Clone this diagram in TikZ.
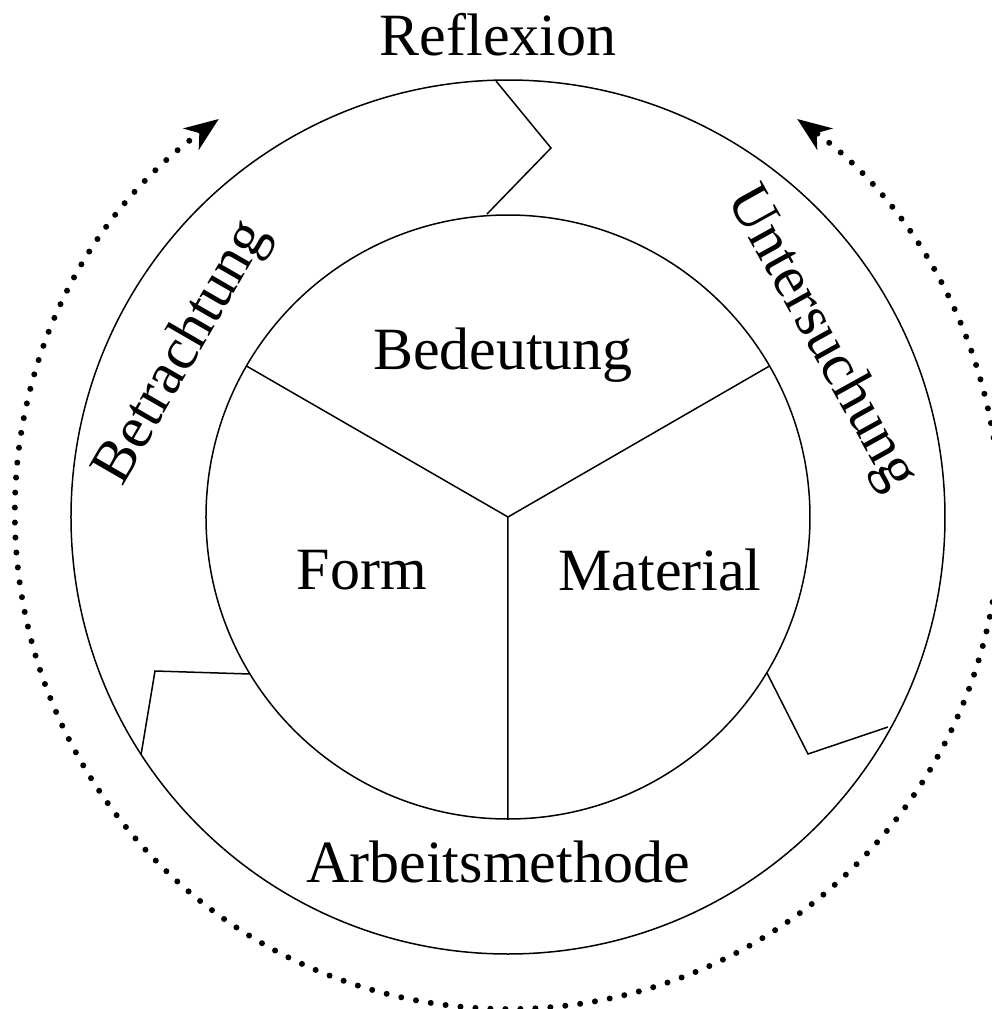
\documentclass[tikz,border=0pt]{standalone}
\usepackage{fontspec}
\setmainfont{Liberation Serif}
\usetikzlibrary{arrows.meta}
\tikzset{lbl/.style={font=\fontsize{30}{36}\selectfont, inner sep=0pt}}

\begin{document}
\begin{tikzpicture}[x=0.5pt, y=0.5pt, line width=0.75pt]
      \useasboundingbox (-508,-492) rectangle (484,517);
      % Circles
      \coordinate (c) at (0,0);
      \draw (c) circle[radius=302];
      \draw (c) circle[radius=437];
      % Spokes of the inner circle
      \draw (c) -- (30:302) (c) -- (150:302) (c) -- (270:302);
      % Zigzags between the rings
      \draw (-12,436) -- (43,369) -- (-21,303);
      \draw (-367,-238) -- (-353,-154) -- (-258,-157);
      \draw (259,-156) -- (300,-237) -- (380,-210);
      % Dotted loop with arrows
      \draw[line width=3pt, dash pattern=on 0pt off 7.5pt, line cap=round,
        {Stealth[length=17pt, width=13pt, inset=5pt]}-{Stealth[length=17pt, width=13pt, inset=5pt]}]
        (126:492) arc[start angle=126, end angle=414, radius=492];
      % Labels
      \node[lbl] (reflexion) at (-10,482) {Reflexion};
      \node[lbl] (bedeutung) at (-5,162) {Bedeutung};
      \node[lbl] (form) at (-146,-53) {Form};
      \node[lbl] (material) at (152,-53) {Material};
      \node[lbl] (arbeit) at (-10,-345) {Arbeitsmethode};
      \node[lbl, rotate=60] (betrachtung) at (-325,164) {Betrachtung};
      \node[lbl, rotate=-61] (untersuchung) at (313,178) {Untersuchung};
\end{tikzpicture}
\end{document}
